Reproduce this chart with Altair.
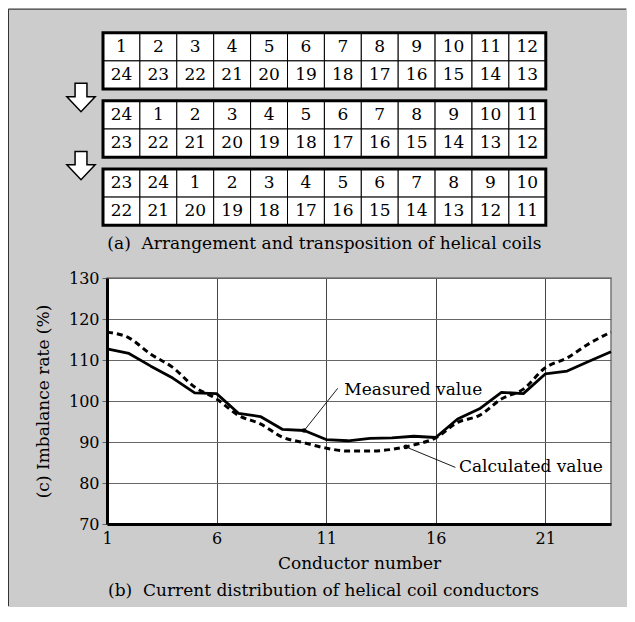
import altair as alt
import pandas as pd

# ---------------- data ----------------
conductors = [1, 2, 3, 4, 5, 6, 7, 8, 9, 10, 11, 12, 13, 14, 15, 16, 17, 18, 19, 20, 21, 22, 23, 24]
measured = [112.7, 111.6, 108.5, 105.6, 102.0, 101.8, 97.0, 96.2, 93.1, 92.8, 90.6, 90.3,
            90.9, 91.0, 91.4, 91.1, 95.6, 98.1, 102.1, 101.8, 106.6, 107.3, 109.7, 112.0]
calculated = [116.8, 115.4, 111.4, 108.2, 103.4, 100.5, 96.5, 94.4, 91.2, 89.8, 88.5, 87.8,
              87.8, 88.2, 89.3, 91.0, 94.8, 96.5, 100.5, 102.9, 108.1, 110.5, 114.0, 116.8]

t1_top = [1, 2, 3, 4, 5, 6, 7, 8, 9, 10, 11, 12]
t1_bot = [24, 23, 22, 21, 20, 19, 18, 17, 16, 15, 14, 13]
t2_top = [24, 1, 2, 3, 4, 5, 6, 7, 8, 9, 10, 11]
t2_bot = [23, 22, 21, 20, 19, 18, 17, 16, 15, 14, 13, 12]
t3_top = [23, 24, 1, 2, 3, 4, 5, 6, 7, 8, 9, 10]
t3_bot = [22, 21, 20, 19, 18, 17, 16, 15, 14, 13, 12, 11]

x_ticks = [1, 6, 11, 16, 21]
y_ticks = [70, 80, 90, 100, 110, 120, 130]

NB = "\u00a0"
caption_a = "(a)" + NB + " Arrangement and transposition of helical coils"
caption_b = "(b)" + NB + " Current distribution of helical coil conductors"
x_title = "Conductor number"
y_title = "(c) Imbalance rate (%)"
labels = ["Measured value", "Calculated value"]

# ---------------- layout parameters ----------------
FONT = "DejaVu Serif"
PLOT_W = 504
PLOT_H = 246
CELL_W = 36.9          # px per table column
ROW_H = 28.2           # px per table row
PITCH = 2.415          # table pitch, in row units
TABLE_X0 = -4          # left edge of tables relative to plot origin (px)
TABLE_Y0 = -245.3      # top edge of first table relative to plot origin (px)
FRAME_L = -98.5        # figure frame relative to plot origin (px)
FRAME_T = -268.8
FRAME_R = 519
FRAME_B = 328

# ---------------- tables (own scales) ----------------
cells = []
for k, (top, bot) in enumerate([(t1_top, t1_bot), (t2_top, t2_bot), (t3_top, t3_bot)]):
    for r, row in enumerate((top, bot)):
        for c, v in enumerate(row):
            cells.append(dict(x=c, x2=c + 1, y=k * PITCH + r, y2=k * PITCH + r + 1,
                              xm=c + 0.5, ym=k * PITCH + r + 0.5, label=str(v)))
cells_df = pd.DataFrame(cells)
frames_df = pd.DataFrame([dict(x=0, x2=12, y=k * PITCH, y2=k * PITCH + 2) for k in range(3)])
arrows_df = pd.DataFrame([dict(xm=-0.596, ym=k * PITCH + 2.298) for k in range(2)])
cap_a_df = pd.DataFrame([dict(xm=6, ym=7.493, text=caption_a)])

TX = alt.Scale(domain=[0, 12], range=[TABLE_X0, TABLE_X0 + 12 * CELL_W], nice=False, zero=False)
TY = alt.Scale(domain=[0, 10], range=[TABLE_Y0, TABLE_Y0 + 10 * ROW_H], nice=False, zero=False)

ARROW = "M -0.42 -1 L 0.42 -1 L 0.42 -0.06 L 1 -0.06 L 0 1 L -1 -0.06 L -0.42 -0.06 Z"

cell_rects = alt.Chart(cells_df).mark_rect(fill="white", stroke="black", strokeWidth=1).encode(
    x=alt.X("x:Q", scale=TX, axis=None), x2="x2:Q",
    y=alt.Y("y:Q", scale=TY, axis=None), y2="y2:Q")
frames = alt.Chart(frames_df).mark_rect(filled=False, stroke="black", strokeWidth=3).encode(
    x=alt.X("x:Q", scale=TX, axis=None), x2="x2:Q",
    y=alt.Y("y:Q", scale=TY, axis=None), y2="y2:Q")
cell_text = alt.Chart(cells_df).mark_text(fontSize=17, align="center", baseline="middle",
                                          color="black").encode(
    x=alt.X("xm:Q", scale=TX, axis=None), y=alt.Y("ym:Q", scale=TY, axis=None), text="label:N")
arrows = alt.Chart(arrows_df).mark_point(shape=ARROW, size=800, filled=True, fill="white",
                                         stroke="black", strokeWidth=1.5, opacity=1).encode(
    x=alt.X("xm:Q", scale=TX, axis=None), y=alt.Y("ym:Q", scale=TY, axis=None))
cap_a = alt.Chart(cap_a_df).mark_text(fontSize=17, align="center", baseline="middle",
                                      color="black").encode(
    x=alt.X("xm:Q", scale=TX, axis=None), y=alt.Y("ym:Q", scale=TY, axis=None), text="text:N")

table_layer = alt.layer(cell_rects, frames, cell_text, arrows, cap_a)

# ---------------- current distribution plot ----------------
xb = alt.Scale(domain=[1, 24], nice=False, zero=False)
yb = alt.Scale(domain=[70, 130], nice=False, zero=False)
x_axis = alt.Axis(values=x_ticks, title=x_title, grid=True, gridColor="#444444", gridWidth=1,
                  domainColor="black", domainWidth=3, ticks=False, labelFontSize=16,
                  labelPadding=6, labelColor="black", titleFontSize=17, titleFontWeight="normal",
                  titlePadding=9, titleColor="black", labelFlush=False)
y_axis = alt.Axis(values=y_ticks, title=y_title, grid=True, gridColor="#666666", gridWidth=1.2,
                  domainColor="black", domainWidth=3, tickSize=5, tickColor="#666666",
                  labelFontSize=16, labelPadding=3, labelColor="black", titleFontSize=17,
                  titleFontWeight="normal", titlePadding=16, titleColor="black", labelFlush=False)

X = alt.X("n:Q", scale=xb, axis=x_axis)
Y = alt.Y("v:Q", scale=yb, axis=y_axis)

meas_df = pd.DataFrame({"n": conductors, "v": measured})
calc_df = pd.DataFrame({"n": conductors, "v": calculated})
ann_df = pd.DataFrame({"n": [11.83, 17.06], "v": [102.8, 83.8], "text": labels})
lead_df = pd.DataFrame({"n": [11.53, 16.9], "v": [103.1, 83.8], "n2": [10.0, 14.64], "v2": [92.8, 88.8]})
dot_df = pd.DataFrame({"n": [10.0, 14.64], "v": [92.8, 88.8]})
cap_b_df = pd.DataFrame({"n": [10.88], "v": [53.73], "text": [caption_b]})

calc_line = alt.Chart(calc_df).mark_line(color="black", strokeWidth=3, strokeDash=[6, 4],
                                         interpolate="monotone").encode(x=X, y=Y)
meas_line = alt.Chart(meas_df).mark_line(color="black", strokeWidth=2.8, strokeJoin="round").encode(x=X, y=Y)
leaders = alt.Chart(lead_df).mark_rule(color="black", strokeWidth=0.9).encode(
    x=X, y=Y, x2="n2:Q", y2="v2:Q")
dots = alt.Chart(dot_df).mark_circle(color="black", size=22, opacity=1).encode(x=X, y=Y)
ann = alt.Chart(ann_df).mark_text(fontSize=17, align="left", baseline="middle", color="black").encode(
    x=X, y=Y, text="text:N")
cap_b = alt.Chart(cap_b_df).mark_text(fontSize=17, align="center", baseline="middle",
                                      color="black").encode(x=X, y=Y, text="text:N")

# figure frame (left and top edges of the grey panel)
one = pd.DataFrame({"a": [0]})
frame_left = alt.Chart(one).mark_rule(color="#333333", strokeWidth=1).encode(
    x=alt.value(FRAME_L), y=alt.value(FRAME_T), y2=alt.value(FRAME_B))
frame_top = alt.Chart(one).mark_rule(color="#333333", strokeWidth=1).encode(
    x=alt.value(FRAME_L), x2=alt.value(FRAME_R), y=alt.value(FRAME_T))

plot_layer = alt.layer(calc_line, meas_line, leaders, dots, ann, cap_b, frame_left, frame_top)

chart = alt.layer(plot_layer, table_layer).resolve_scale(
    x="independent", y="independent"
).properties(
    width=PLOT_W, height=PLOT_H,
    view=alt.ViewBackground(fill="white", stroke="#777777", strokeWidth=1.5),
    padding=0, background="#cccccc",
).configure(font=FONT)

chart.save("out.html", embed_options={"renderer": "svg", "actions": False})
